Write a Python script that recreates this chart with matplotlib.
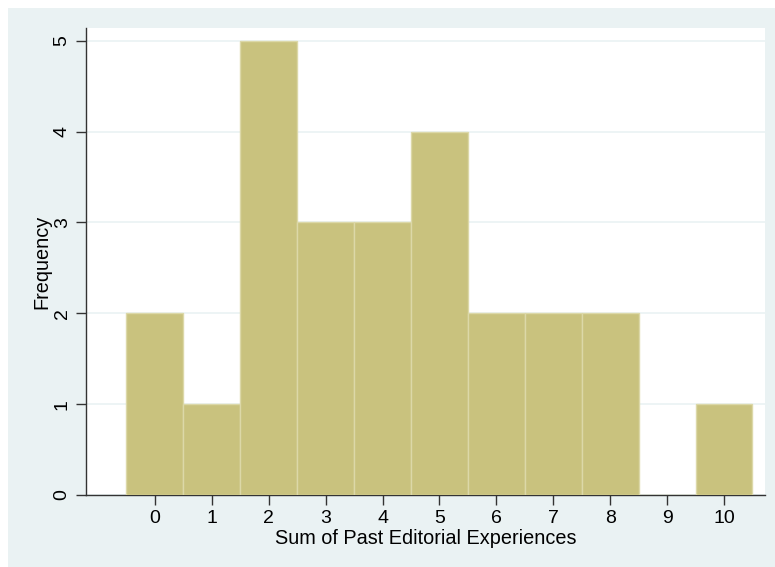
import matplotlib
matplotlib.use("Agg")
import matplotlib.pyplot as plt
from matplotlib.patches import Rectangle

values = [0, 1, 2, 3, 4, 5, 6, 7, 8, 9, 10]
counts = [2, 1, 5, 3, 3, 4, 2, 2, 2, 0, 1]
y_ticks = [0, 1, 2, 3, 4, 5]
x_label = "Sum of Past Editorial Experiences"
y_label = "Frequency"

plt.rcParams['font.family'] = ['Liberation Sans', 'DejaVu Sans']

W, H = 775, 567
fig = plt.figure(figsize=(W / 100, H / 100), dpi=100, facecolor="white")
bg = Rectangle((8 / W, 0), 1 - 8 / W, 1 - 8 / H, transform=fig.transFigure,
               facecolor="#EAF2F3", edgecolor="none", zorder=-10)
fig.patches.append(bg)

left, right, top, bottom = 86, 765, 28, 495
ax = fig.add_axes([left / W, 1 - bottom / H, (right - left) / W, (bottom - top) / H])
ax.set_facecolor("white")

ax.bar(values, counts, width=1.0, align="center", color="#C9C27E",
       edgecolor="#DCD8A8", linewidth=1.0, zorder=3)

ax.set_xlim(-1.21, 10.72)
ax.set_ylim(0, 5.14)
ax.set_xticks(values)
ax.set_yticks(y_ticks)
ax.set_xticklabels([str(v) for v in values], fontsize=14)
ax.set_yticklabels([str(v) for v in y_ticks], fontsize=14, rotation=90, va="center")
ax.yaxis.grid(True, color="#EAF2F3", linewidth=1.2, zorder=0)
ax.set_axisbelow(True)

for s in ["top", "right"]:
    ax.spines[s].set_visible(False)
for s in ["left", "bottom"]:
    ax.spines[s].set_color("#333333")
    ax.spines[s].set_linewidth(1.0)
ax.tick_params(axis="both", length=7, width=1.0, color="#333333", pad=4)

ax.set_xlabel(x_label, fontsize=14.3, labelpad=1)
ax.set_ylabel(y_label, fontsize=14.3, labelpad=2)

fig.savefig("out.png", dpi=100, facecolor="white")
